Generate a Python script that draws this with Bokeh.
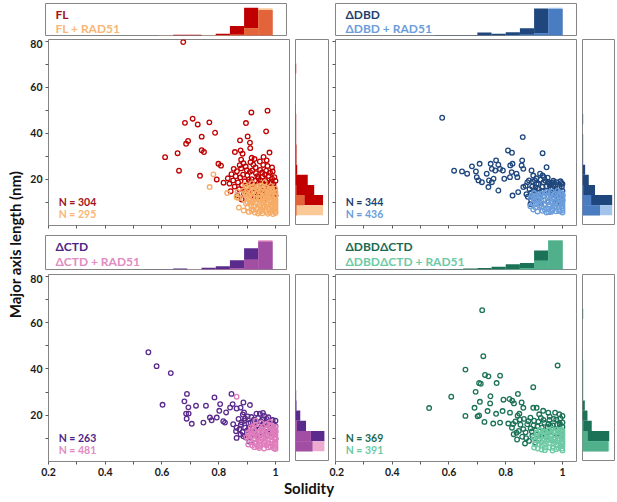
import numpy as np
from bokeh.plotting import figure
from bokeh.layouts import row, column
from bokeh.models import Range1d, FixedTicker, Label
from bokeh.embed import file_html
from bokeh.resources import INLINE

FONT = "Lato"
OUTLINE = "#858585"
TICK = "#595959"

# ---------------- axes ----------------
X_START, X_END = 0.2, 1.053
Y_START, Y_END = 0.0, 80.8
X_MAJOR = [0.2, 0.4, 0.6, 0.8, 1.0]
X_MINOR = [0.3, 0.5, 0.7, 0.9]
Y_MAJOR = [20, 40, 60, 80]
Y_MINOR = [10, 30, 50, 70]

# ---------------- histogram bins ----------------
TH_LEFT = [0.50, 0.55, 0.60, 0.65, 0.70, 0.75, 0.80, 0.85, 0.90, 0.95]
TH_WIDTH = 0.05
TH_TOP = 1.15
RH_LOW = [4.4, 8.8, 13.2, 17.6, 22.0, 26.4, 30.8, 35.2, 39.6, 44.0, 48.4, 52.8, 57.2, 61.6, 66.0, 70.4, 74.8]
RH_HEIGHT = 4.4

# ---------------- FL / FL + RAD51 ----------------
FL_TOP = [0, 0, 0, 0.03, 0.03, 0.0, 0.06, 0.34, 1.00, 0.92]
FLR_TOP = [0, 0, 0.02, 0, 0, 0.02, 0.02, 0.03, 0.26, 0.98]
FL_RIGHT = [0.03, 0.81, 0.55, 0.36, 0.05, 0.03, 0.03, 0.02, 0.02, 0.02, 0.01, 0, 0, 0, 0.02, 0, 0]
FLR_RIGHT = [0.81, 0.26, 0.02, 0, 0, 0, 0, 0, 0, 0, 0, 0, 0, 0, 0, 0, 0]
FL_PTS = [(0.675, 79.7), (0.611, 29.7), (0.655, 31.4), (0.660, 23.8), (0.681, 44.6), (0.708, 46.4),
          (0.726, 43.9), (0.767, 44.8), (0.787, 40.3), (0.740, 38.6), (0.692, 36.7), (0.685, 35.5),
          (0.740, 32.7), (0.748, 31.9), (0.799, 26.8), (0.808, 26.0), (0.734, 21.6), (0.793, 20.0),
          (0.817, 18.6), (0.915, 49.1), (0.972, 49.9), (0.896, 44.5), (0.967, 40.9), (0.902, 38.7),
          (0.875, 37.0), (0.910, 36.0), (0.911, 33.6), (0.857, 31.9), (0.877, 32.6), (0.884, 31.2),
          (0.979, 31.7), (0.879, 28.6), (0.887, 27.1), (0.916, 29.4), (0.945, 27.8), (0.969, 28.3),
          (0.832, 20.5), (0.838, 18.2), (0.845, 22.3), (0.851, 19.6), (0.856, 16.9), (0.860, 21.4),
          (0.864, 23.6), (0.868, 18.7), (0.872, 15.8), (0.876, 20.9), (0.879, 24.8), (0.882, 17.5),
          (0.886, 22.1), (0.889, 13.9), (0.892, 19.2), (0.895, 25.6), (0.898, 16.4), (0.901, 21.8),
          (0.904, 14.7), (0.907, 18.9), (0.910, 23.3), (0.913, 12.8), (0.916, 20.1), (0.919, 16.2),
          (0.922, 26.4), (0.925, 14.1), (0.928, 19.5), (0.931, 22.7), (0.934, 17.3), (0.937, 12.5),
          (0.940, 20.6), (0.943, 15.4), (0.946, 24.1), (0.949, 18.3), (0.952, 13.6), (0.955, 21.2),
          (0.958, 16.8), (0.961, 11.9), (0.964, 19.7), (0.967, 23.8), (0.970, 14.9), (0.973, 17.6),
          (0.976, 21.5), (0.979, 12.7), (0.982, 18.4), (0.985, 15.3), (0.988, 20.3), (0.991, 13.2),
          (0.994, 16.6), (0.997, 14.0), (0.999, 11.5), (0.926, 28.9), (0.957, 26.3), (0.988, 25.2),
          (0.842, 14.9), (0.853, 24.6), (0.866, 13.1), (0.874, 26.2), (0.881, 11.3), (0.893, 15.0),
          (0.899, 24.0), (0.906, 19.9), (0.912, 27.5), (0.918, 23.9), (0.924, 17.8), (0.930, 25.2),
          (0.936, 21.4), (0.941, 13.9), (0.947, 19.6), (0.953, 23.0), (0.957, 14.5), (0.963, 22.2),
          (0.968, 18.8), (0.972, 25.9), (0.977, 16.3), (0.981, 22.9), (0.986, 19.1), (0.990, 23.5),
          (0.993, 17.9), (0.996, 21.0), (0.999, 15.6), (1.000, 19.4), (1.000, 13.1), (0.958, 29.8)]
FLR_PTS = [(0.781, 22.2), (0.768, 16.7), (0.830, 14.1), (0.869, 12.0), (0.871, 7.8), (0.866, 14.6),
           (0.863, 12.3), (0.886, 15.2), (0.889, 11.4), (0.893, 17.8), (0.896, 9.6), (0.899, 13.5),
           (0.902, 7.9), (0.905, 16.1), (0.908, 11.0), (0.911, 14.3), (0.914, 8.7), (0.917, 18.4),
           (0.920, 12.2), (0.923, 6.8), (0.926, 15.6), (0.929, 10.1), (0.932, 13.8), (0.935, 7.5),
           (0.938, 17.1), (0.941, 11.7), (0.944, 9.2), (0.947, 14.9), (0.950, 6.3), (0.953, 12.6),
           (0.956, 16.4), (0.959, 8.4), (0.962, 10.8), (0.965, 13.3), (0.968, 5.9), (0.971, 15.8),
           (0.974, 9.9), (0.977, 12.1), (0.980, 7.2), (0.983, 14.2), (0.986, 10.4), (0.989, 6.6),
           (0.992, 11.8), (0.995, 8.9), (0.998, 13.0), (1.000, 5.4), (1.000, 7.1), (1.000, 9.3),
           (1.000, 11.2), (1.000, 12.9), (0.999, 6.2), (0.997, 10.2), (0.990, 15.0), (0.984, 17.2),
           (0.962, 18.7), (0.945, 12.0), (0.935, 9.5), (0.925, 8.3), (0.955, 7.6), (0.966, 11.5),
           (0.975, 8.1), (0.982, 12.6), (0.993, 9.8), (0.952, 10.7), (0.940, 15.5), (0.912, 9.9),
           (0.903, 12.7), (0.921, 16.9), (0.972, 13.9), (0.987, 8.2), (0.960, 14.6),
           (0.888, 6.5), (0.891, 14.0), (0.897, 16.8), (0.901, 10.3), (0.906, 5.9), (0.909, 13.0),
           (0.913, 16.7), (0.916, 6.4), (0.919, 10.6), (0.922, 14.7), (0.927, 5.6), (0.931, 12.0),
           (0.934, 16.2), (0.939, 5.2), (0.942, 13.4), (0.946, 8.1), (0.949, 17.4), (0.954, 5.3),
           (0.957, 9.9), (0.961, 13.9), (0.964, 6.9), (0.967, 16.6), (0.969, 9.1), (0.973, 5.1),
           (0.976, 14.8), (0.979, 10.9), (0.981, 5.8), (0.985, 13.1), (0.988, 16.1), (0.991, 5.0),
           (0.994, 14.2), (0.996, 7.4), (0.999, 16.0), (1.000, 14.4), (1.000, 8.2), (1.000, 10.3),
           (1.000, 6.2), (0.943, 6.0), (0.958, 11.9), (0.978, 15.9)]

# ---------------- dDBD / dDBD + RAD51 ----------------
DBD_TOP = [0, 0.02, 0.02, 0.02, 0.11, 0.06, 0.12, 0.26, 0.97, 0.95]
DBDR_TOP = [0, 0, 0, 0, 0, 0, 0.02, 0.03, 0.08, 1.00]
DBD_RIGHT = [0.53, 0.90, 0.38, 0.19, 0.08, 0.02, 0.02, 0.02, 0.0, 0.02, 0, 0, 0, 0, 0, 0, 0]
DBDR_RIGHT = [0.90, 0.26, 0.02, 0, 0, 0, 0, 0, 0, 0, 0, 0, 0, 0, 0, 0, 0]
DBD_PTS = [(0.576, 46.8), (0.860, 38.4), (0.808, 32.6), (0.822, 31.6), (0.930, 31.4), (0.618, 23.8),
           (0.646, 23.5), (0.664, 22.5), (0.681, 25.7), (0.695, 23.5), (0.708, 26.8), (0.698, 21.0),
           (0.704, 19.6), (0.716, 18.8), (0.733, 22.5), (0.741, 19.6), (0.751, 18.8), (0.757, 20.3),
           (0.747, 26.8), (0.766, 28.3), (0.774, 26.4), (0.780, 24.6), (0.790, 23.9), (0.751, 24.6),
           (0.763, 23.9), (0.739, 16.7), (0.774, 15.2), (0.795, 20.3), (0.815, 21.0), (0.821, 23.2),
           (0.816, 26.1), (0.824, 26.8), (0.838, 22.5), (0.841, 21.0), (0.856, 26.1), (0.858, 28.3),
           (0.862, 24.6), (0.824, 13.0), (0.844, 14.5), (0.862, 16.7), (0.876, 18.8), (0.891, 23.9),
           (0.897, 21.7), (0.903, 19.6), (0.909, 18.1), (0.921, 22.5), (0.930, 21.7), (0.935, 21.0),
           (0.944, 25.3), (0.950, 18.8), (0.956, 18.4), (0.970, 18.8), (0.979, 18.8),
           (0.870, 17.2), (0.878, 12.5), (0.884, 15.8), (0.890, 10.9), (0.895, 19.1), (0.900, 13.7),
           (0.905, 16.6), (0.910, 11.2), (0.915, 18.0), (0.920, 14.4), (0.925, 9.6), (0.930, 16.9),
           (0.935, 12.8), (0.940, 19.4), (0.945, 15.1), (0.950, 10.3), (0.955, 17.5), (0.960, 13.2),
           (0.965, 15.9), (0.970, 11.6), (0.975, 17.9), (0.980, 14.1), (0.985, 12.0), (0.990, 16.3),
           (0.995, 13.4), (1.000, 11.0), (1.000, 15.0), (0.908, 20.5), (0.948, 20.8), (0.890, 14.2),
           (0.938, 9.1), (0.962, 18.6), (0.996, 18.5), (0.978, 9.4),
           (0.873, 13.6), (0.882, 19.6), (0.887, 9.3), (0.893, 16.9), (0.898, 11.8), (0.903, 15.2),
           (0.913, 16.0), (0.918, 12.0), (0.923, 19.9), (0.928, 14.8), (0.933, 18.7), (0.943, 17.0),
           (0.953, 14.2), (0.958, 16.1), (0.968, 19.5), (0.973, 15.3), (0.983, 17.1), (0.988, 13.9),
           (0.993, 19.2), (0.998, 16.8), (1.000, 18.1), (1.000, 13.0)]
DBDR_PTS = [(0.889, 12.3), (0.895, 9.5), (0.900, 14.1), (0.905, 7.8), (0.910, 11.2), (0.915, 13.6),
            (0.920, 8.6), (0.925, 10.7), (0.930, 6.4), (0.935, 12.9), (0.940, 9.1), (0.945, 14.6),
            (0.950, 7.3), (0.955, 11.5), (0.960, 5.9), (0.965, 10.1), (0.970, 13.2), (0.975, 7.9),
            (0.980, 11.9), (0.985, 6.7), (0.990, 9.8), (0.995, 12.6), (1.000, 5.6), (1.000, 7.4),
            (1.000, 9.6), (1.000, 11.8), (1.000, 13.7), (0.998, 8.3), (0.992, 14.4), (0.982, 15.1),
            (0.968, 8.8), (0.958, 12.7), (0.948, 10.2), (0.938, 6.8), (0.928, 13.9), (0.918, 11.4),
            (0.908, 9.2), (0.898, 12.0), (0.972, 10.4), (0.987, 11.1), (0.952, 5.8), (0.962, 14.8),
            (0.977, 6.2),
            (0.887, 8.4), (0.892, 13.2), (0.897, 6.9), (0.902, 10.6), (0.907, 13.1), (0.912, 6.1),
            (0.917, 9.7), (0.922, 12.5), (0.927, 8.0), (0.932, 11.1), (0.937, 14.0), (0.942, 7.5),
            (0.947, 12.3), (0.952, 9.0), (0.957, 14.0), (0.962, 7.0), (0.967, 12.2), (0.972, 8.3),
            (0.977, 13.9), (0.982, 9.3), (0.987, 13.0), (0.991, 6.2), (0.994, 10.9), (0.997, 14.0),
            (1.000, 6.5), (1.000, 8.5), (1.000, 10.7), (1.000, 12.8), (0.964, 6.5), (0.944, 5.7)]

# ---------------- dCTD / dCTD + RAD51 ----------------
CTD_TOP = [0, 0.01, 0.01, 0.03, 0.0, 0.06, 0.11, 0.31, 0.72, 0.95]
CTDR_TOP = [0, 0, 0, 0, 0.02, 0.02, 0.02, 0.04, 0.33, 1.00]
CTD_RIGHT = [0.50, 0.85, 0.31, 0.14, 0.03, 0.02, 0.01, 0.01, 0.01, 0.01, 0, 0, 0, 0, 0, 0, 0]
CTDR_RIGHT = [0.85, 0.45, 0.03, 0, 0, 0, 0, 0, 0, 0, 0, 0, 0, 0, 0, 0, 0]
CTD_PTS = [(0.552, 47.2), (0.581, 41.2), (0.631, 38.2), (0.602, 24.5), (0.688, 29.2), (0.679, 26.0),
           (0.693, 23.4), (0.685, 20.7), (0.694, 20.7), (0.687, 18.5), (0.720, 24.1), (0.755, 24.1),
           (0.785, 27.7), (0.805, 24.8), (0.845, 29.2), (0.849, 24.8), (0.746, 16.8), (0.769, 19.0),
           (0.775, 17.8), (0.793, 19.0), (0.816, 17.4), (0.822, 16.8), (0.802, 21.9), (0.826, 21.2),
           (0.840, 23.3), (0.863, 22.9), (0.877, 23.3), (0.889, 21.2), (0.851, 16.1), (0.863, 14.6),
           (0.861, 13.1), (0.877, 11.7), (0.893, 14.6), (0.863, 10.2), (0.705, 16.3), (0.887, 25.5),
           (0.910, 24.4), (0.933, 20.7), (0.956, 21.0),
           (0.870, 18.4), (0.878, 15.9), (0.884, 12.8), (0.890, 17.6), (0.896, 10.4), (0.902, 19.5),
           (0.906, 14.2), (0.912, 16.8), (0.918, 11.9), (0.924, 18.1), (0.930, 13.5), (0.936, 15.7),
           (0.942, 10.8), (0.948, 17.3), (0.954, 12.9), (0.960, 19.8), (0.966, 14.6), (0.972, 11.3),
           (0.978, 16.4), (0.984, 13.1), (0.990, 17.9), (0.996, 12.2), (1.000, 15.3), (1.000, 9.8),
           (0.908, 8.6), (0.928, 7.9), (0.955, 16.0), (0.885, 20.3), (0.945, 20.6), (0.975, 19.1),
           (0.873, 13.9), (0.881, 16.9), (0.887, 10.9), (0.893, 18.6), (0.899, 13.4), (0.905, 16.5),
           (0.915, 19.2), (0.921, 14.4), (0.927, 17.0), (0.933, 11.3), (0.939, 18.8), (0.951, 14.8),
           (0.957, 18.3), (0.963, 16.9), (0.969, 18.4), (0.981, 15.2), (0.987, 12.4), (0.993, 16.2),
           (1.000, 17.6), (1.000, 12.9)]
CTDR_PTS = [(0.863, 28.0), (0.898, 10.5), (0.904, 7.3), (0.903, 12.4), (0.908, 9.1), (0.913, 14.8),
            (0.918, 6.9), (0.923, 11.2), (0.928, 15.9), (0.933, 8.4), (0.938, 12.7), (0.943, 5.8),
            (0.948, 10.3), (0.953, 14.1), (0.958, 7.6), (0.963, 11.8), (0.968, 16.2), (0.973, 9.4),
            (0.978, 13.3), (0.983, 6.5), (0.988, 10.9), (0.993, 14.7), (0.998, 8.1), (1.000, 5.4),
            (1.000, 7.2), (1.000, 9.5), (1.000, 11.6), (1.000, 13.8), (0.996, 12.0), (0.986, 15.5),
            (0.975, 6.1), (0.965, 13.9), (0.955, 9.9), (0.945, 13.0), (0.935, 10.6), (0.925, 13.4),
            (0.915, 11.0), (0.950, 16.8), (0.970, 11.0), (0.990, 7.7), (0.960, 5.6), (0.930, 17.6),
            (0.980, 17.0),
            (0.906, 10.8), (0.911, 13.0), (0.916, 8.4), (0.921, 15.0), (0.926, 6.2), (0.931, 11.9),
            (0.936, 14.6), (0.941, 8.9), (0.946, 6.8), (0.951, 11.9), (0.956, 15.0), (0.961, 8.7),
            (0.966, 10.1), (0.971, 14.3), (0.976, 7.9), (0.981, 11.4), (0.986, 8.6), (0.991, 12.6),
            (0.994, 5.7), (0.997, 10.3), (1.000, 6.3), (1.000, 8.3), (1.000, 10.5), (1.000, 12.7),
            (1.000, 14.9), (0.958, 12.8), (0.938, 6.4), (0.918, 12.3), (0.968, 7.0), (0.978, 15.8),
            (0.988, 14.0), (0.948, 8.0), (0.928, 9.6)]

# ---------------- dDBDdCTD / dDBDdCTD + RAD51 ----------------
GRN_TOP = [0.02, 0.0, 0.02, 0.03, 0.05, 0.09, 0.18, 0.22, 0.64, 0.97]
GRNR_TOP = [0, 0, 0, 0, 0, 0.01, 0.02, 0.05, 0.30, 1.00]
GRN_RIGHT = [0.78, 0.81, 0.28, 0.15, 0.07, 0.02, 0.02, 0.02, 0.02, 0.01, 0, 0, 0, 0.02, 0, 0, 0]
GRNR_RIGHT = [0.81, 0.15, 0.02, 0, 0, 0, 0, 0, 0, 0, 0, 0, 0, 0, 0, 0, 0]
GRN_PTS = [(0.717, 65.4), (0.721, 45.5), (0.983, 41.5), (0.658, 39.7), (0.727, 37.4), (0.739, 36.8),
           (0.706, 33.9), (0.712, 33.6), (0.768, 33.9), (0.780, 37.1), (0.897, 32.1), (0.694, 30.1),
           (0.746, 28.2), (0.843, 29.2), (0.608, 28.0), (0.530, 23.1), (0.709, 25.8), (0.745, 25.1),
           (0.792, 26.7), (0.813, 27.0), (0.823, 26.3), (0.829, 25.1), (0.856, 25.5), (0.862, 23.2),
           (0.897, 23.2), (0.909, 23.2), (0.690, 23.2), (0.736, 21.8), (0.766, 20.6), (0.789, 21.8),
           (0.815, 21.1), (0.848, 20.6), (0.658, 19.7), (0.701, 19.5), (0.706, 19.9), (0.725, 17.1),
           (0.756, 16.4), (0.780, 16.8), (0.809, 16.4), (0.974, 21.1), (0.989, 20.4), (1.000, 19.7),
           (0.991, 16.0), (0.932, 21.9), (0.950, 21.1),
           (0.822, 14.6), (0.828, 11.8), (0.834, 17.3), (0.840, 9.5), (0.846, 13.2), (0.852, 15.9),
           (0.858, 10.7), (0.864, 18.4), (0.870, 12.6), (0.876, 16.1), (0.882, 8.9), (0.888, 14.3),
           (0.894, 11.1), (0.900, 17.6), (0.906, 13.5), (0.912, 15.2), (0.918, 9.8), (0.924, 18.8),
           (0.930, 12.1), (0.936, 16.7), (0.942, 10.6), (0.948, 14.8), (0.954, 17.9), (0.960, 12.9),
           (0.966, 15.6), (0.972, 10.2), (0.978, 18.1), (0.984, 13.7), (0.990, 16.4), (0.996, 11.5),
           (1.000, 14.9), (0.887, 18.9), (0.918, 20.4), (0.955, 19.4), (0.842, 19.8), (0.868, 7.8),
           (0.905, 8.2),
           (0.826, 16.2), (0.838, 12.4), (0.850, 18.1), (0.862, 14.0), (0.872, 10.1), (0.880, 17.4),
           (0.892, 13.0), (0.898, 15.6), (0.910, 11.7), (0.915, 17.2), (0.927, 14.6), (0.933, 18.0),
           (0.945, 12.6), (0.951, 16.2), (0.963, 14.3), (0.969, 18.4), (0.981, 15.9), (0.987, 12.0),
           (0.993, 18.6), (1.000, 16.9), (0.921, 13.1), (0.957, 15.4)]
GRNR_PTS = [(0.898, 10.3), (0.903, 7.4), (0.908, 12.6), (0.913, 5.6), (0.918, 9.2), (0.923, 13.4),
            (0.928, 6.8), (0.933, 10.9), (0.938, 4.9), (0.943, 8.7), (0.948, 12.2), (0.953, 6.1),
            (0.958, 10.0), (0.963, 14.1), (0.968, 7.7), (0.973, 11.4), (0.978, 5.3), (0.983, 9.1),
            (0.988, 12.8), (0.993, 6.9), (0.998, 10.6), (1.000, 4.8), (1.000, 6.7), (1.000, 8.8),
            (1.000, 11.0), (1.000, 13.2), (0.996, 13.9), (0.986, 5.8), (0.965, 4.7), (0.945, 11.6),
            (0.925, 8.4), (0.910, 10.8), (0.955, 13.5), (0.975, 8.3), (0.935, 7.5), (0.990, 9.9),
            (0.950, 9.4), (0.970, 12.9),
            (0.900, 6.0), (0.905, 9.4), (0.911, 12.0), (0.916, 7.4), (0.921, 11.0), (0.926, 5.2),
            (0.931, 13.0), (0.936, 9.6), (0.941, 6.0), (0.946, 10.4), (0.951, 13.6), (0.956, 7.9),
            (0.961, 11.6), (0.966, 5.9), (0.971, 9.3), (0.976, 12.6), (0.981, 7.1), (0.985, 11.0),
            (0.991, 13.5), (0.995, 8.0), (0.998, 5.6), (1.000, 7.8), (1.000, 9.9), (1.000, 12.1),
            (0.960, 9.2), (0.980, 13.9), (0.940, 12.8), (0.920, 13.6)]

PANELS = [
    dict(name="FL", name_rad="FL + RAD51", n_base="N = 304", n_rad="N = 295",
         top=(FL_TOP, FLR_TOP), right=(FL_RIGHT, FLR_RIGHT), pts=(FL_PTS, FLR_PTS),
         base="#C00000", base_txt="#A3111B", rad_pt="#F6AC66", rad_txt="#F8B677",
         rad_hist="#FBC898", ovl="#E3643A"),
    dict(name="\u0394DBD", name_rad="\u0394DBD + RAD51", n_base="N = 344", n_rad="N = 436",
         top=(DBD_TOP, DBDR_TOP), right=(DBD_RIGHT, DBDR_RIGHT), pts=(DBD_PTS, DBDR_PTS),
         base="#1F477D", base_txt="#1F3F70", rad_pt="#6C9DDB", rad_txt="#6C9DDB",
         rad_hist="#A3C4EA", ovl="#4A7CC2"),
    dict(name="\u0394CTD", name_rad="\u0394CTD + RAD51", n_base="N = 263", n_rad="N = 481",
         top=(CTD_TOP, CTDR_TOP), right=(CTD_RIGHT, CTDR_RIGHT), pts=(CTD_PTS, CTDR_PTS),
         base="#5A2A8C", base_txt="#4E2585", rad_pt="#E07DBB", rad_txt="#E28BC0",
         rad_hist="#EDA9D0", ovl="#A24FA3"),
    dict(name="\u0394DBD\u0394CTD", name_rad="\u0394DBD\u0394CTD + RAD51", n_base="N = 369", n_rad="N = 391",
         top=(GRN_TOP, GRNR_TOP), right=(GRN_RIGHT, GRNR_RIGHT), pts=(GRN_PTS, GRNR_PTS),
         base="#1B7257", base_txt="#1A6B52", rad_pt="#6DCAA4", rad_txt="#6DCAA4",
         rad_hist="#93D6BA", ovl="#4FB08B"),
]

SC_W = 242


def base_fig(**kw):
    p = figure(title=None, toolbar_location=None, output_backend="svg",
               min_border_right=0, **kw)
    p.grid.visible = False
    return p


def top_hist(pn, left_border, top_border, frame_h, gap, off1, off2):
    p = base_fig(frame_width=SC_W, frame_height=frame_h,
                 x_range=Range1d(X_START, X_END), y_range=Range1d(0, TH_TOP),
                 x_axis_location=None, y_axis_location=None, min_border_top=top_border,
                 min_border_left=left_border, min_border_bottom=gap)
    p.outline_line_color = OUTLINE
    left = np.array(TH_LEFT)
    a = np.array(pn["top"][0])
    b = np.array(pn["top"][1])
    for vals, col in ((a, pn["base"]), (b, pn["rad_hist"]), (np.minimum(a, b), pn["ovl"])):
        p.quad(left=left, right=left + TH_WIDTH, bottom=0, top=vals,
               fill_color=col, line_color=None)
    for txt, col, off in ((pn["name"], pn["base_txt"], off1), (pn["name_rad"], pn["rad_txt"], off2)):
        p.add_layout(Label(x=X_START + 0.035, y=TH_TOP * (1 - off / frame_h), text=txt,
                           text_font=FONT, text_font_style="bold", text_font_size="12px",
                           text_color=col, text_baseline="alphabetic"))
    return p


def scatter_panel(pn, left_border, bottom_border, frame_h, ylabels, xlabels):
    p = base_fig(frame_width=SC_W, frame_height=frame_h,
                 x_range=Range1d(X_START, X_END), y_range=Range1d(Y_START, Y_END),
                 min_border_top=0, min_border_left=left_border, min_border_bottom=bottom_border)
    p.outline_line_color = OUTLINE
    p.xaxis.ticker = FixedTicker(ticks=X_MAJOR, minor_ticks=X_MINOR)
    p.yaxis.ticker = FixedTicker(ticks=Y_MAJOR, minor_ticks=Y_MINOR)
    p.xaxis.major_label_overrides = {1: "1"}
    for ax in list(p.xaxis) + list(p.yaxis):
        ax.axis_line_color = None
        ax.major_tick_line_color = TICK
        ax.minor_tick_line_color = TICK
        ax.major_tick_in = 0
        ax.major_tick_out = 3
        ax.minor_tick_in = 0
        ax.minor_tick_out = 3
        ax.major_label_text_font = FONT
        ax.major_label_text_font_style = "bold"
        ax.major_label_text_font_size = "10.5px"
        ax.major_label_text_color = "#1a1a1a"
        ax.major_label_standoff = 3
    hidden = ([] if ylabels else list(p.yaxis)) + ([] if xlabels else list(p.xaxis))
    for ax in hidden:
        ax.major_label_text_color = None
        ax.major_label_text_font_size = "1px"
        ax.major_label_standoff = 0
    bs, bl = zip(*pn["pts"][0])
    rs, rl = zip(*pn["pts"][1])
    p.scatter(list(bs), list(bl), marker="circle", size=4.6, fill_color=None,
              line_color=pn["base"], line_width=1.3)
    p.scatter(list(rs), list(rl), marker="circle", size=4.6, fill_color=None,
              line_color=pn["rad_pt"], line_width=1.3)
    p.add_layout(Label(x=X_START + 0.036, y=10.0, text=pn["n_base"], text_font=FONT,
                       text_font_style="bold", text_font_size="10.5px",
                       text_color=pn["base_txt"], text_baseline="alphabetic"))
    p.add_layout(Label(x=X_START + 0.036, y=4.8, text=pn["n_rad"], text_font=FONT,
                       text_font_style="bold", text_font_size="10.5px",
                       text_color=pn["rad_txt"], text_baseline="alphabetic"))
    return p


def right_hist(pn, frame_w, frame_h):
    p = base_fig(frame_width=frame_w, frame_height=frame_h,
                 x_range=Range1d(0, 1), y_range=Range1d(Y_START, Y_END),
                 x_axis_location=None, y_axis_location=None,
                 min_border_top=0, min_border_left=5, min_border_bottom=0)
    p.outline_line_color = OUTLINE
    lo = np.array(RH_LOW)
    a = np.array(pn["right"][0])
    b = np.array(pn["right"][1])
    for vals, col in ((a, pn["base"]), (b, pn["rad_hist"]), (np.minimum(a, b), pn["ovl"])):
        p.quad(left=0, right=vals, bottom=lo, top=lo + RH_HEIGHT,
               fill_color=col, line_color=None)
    return p


def cell(pn, left_border, top_border, th_h, gap, off1, off2, bottom_border, frame_h,
         ylabels, xlabels, rh_w):
    return column(top_hist(pn, left_border, top_border, th_h, gap, off1, off2),
                  row(scatter_panel(pn, left_border, bottom_border, frame_h, ylabels, xlabels),
                      right_hist(pn, rh_w, frame_h)))


c11 = cell(PANELS[0], 18, 3, 32, 4, 10.5, 25.0, 10, 186, True, False, 34)
c12 = cell(PANELS[1], 6, 3, 32, 4, 10.5, 25.0, 10, 186, False, False, 33)
c21 = cell(PANELS[2], 18, 0, 34, 5, 10.5, 26.0, 18, 187, True, True, 34)
c22 = cell(PANELS[3], 6, 0, 34, 5, 10.5, 26.0, 18, 187, False, True, 33)
grid = column(row(c11, c12), row(c21, c22))

GRID_H = 479
YLAB_W = 27
ylab = figure(width=YLAB_W, height=GRID_H, title=None, toolbar_location=None, output_backend="svg",
              x_range=Range1d(0, YLAB_W), y_range=Range1d(0, GRID_H),
              x_axis_location=None, y_axis_location=None, min_border=0)
ylab.grid.visible = False
ylab.outline_line_color = None
ylab.add_layout(Label(x=14.5, y=GRID_H - 244, text="Major axis length (nm)", angle=np.pi / 2,
                      text_align="center", text_baseline="middle", text_font=FONT,
                      text_font_style="bold", text_font_size="15px", text_color="#111111"))

XLAB_W, XLAB_H = 612, 20
xlab = figure(width=XLAB_W, height=XLAB_H, title=None, toolbar_location=None, output_backend="svg",
              x_range=Range1d(0, XLAB_W), y_range=Range1d(0, XLAB_H),
              x_axis_location=None, y_axis_location=None, min_border=0)
xlab.grid.visible = False
xlab.outline_line_color = None
xlab.add_layout(Label(x=308.5, y=12, text="Solidity", text_align="center",
                      text_baseline="middle", text_font=FONT, text_font_style="bold",
                      text_font_size="15px", text_color="#111111"))

root = column(row(ylab, grid), xlab)

open("out.html", "w").write(file_html(root, INLINE))
